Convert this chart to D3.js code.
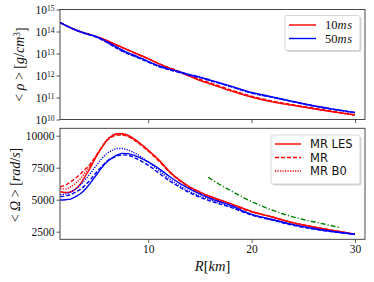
<!DOCTYPE html>
<html>
<head>
<meta charset="utf-8">
<script src="https://cdn.jsdelivr.net/npm/d3@7"></script>
<style>
  body { margin: 0; background: #fff; }
  svg { display: block; }
  text { font-family: "Liberation Serif", "DejaVu Serif", serif; }
</style>
</head>
<body>
<div id="chart"></div>
<script>
// top panel: mean density vs radius
const rhoR = [1.5, 2, 3, 4, 5, 6, 7, 8, 9, 10, 11, 12, 13, 14, 15, 16, 18, 20, 22, 24, 26, 28, 30];
const rho10 = [2.5e14, 1.9e14, 1.17e14, 8.1e13, 5.9e13, 3.9e13, 2.4e13, 1.5e13, 9.3e12, 5.9e12, 3.5e12, 2.2e12, 1.45e12, 9.3e11, 6.0e11, 4.2e11, 2.0e11, 1.05e11, 6.3e10, 4.4e10, 3.1e10, 2.2e10, 1.6e10];
const rho10b = [2.5e14, 1.9e14, 1.17e14, 8.0e13, 5.8e13, 3.8e13, 2.3e13, 1.45e13, 9.0e12, 5.8e12, 3.5e12, 2.3e12, 1.55e12, 1.0e12, 6.6e11, 4.6e11, 2.2e11, 1.15e11, 6.9e10, 4.7e10, 3.3e10, 2.3e10, 1.65e10];
const rho50 = [2.5e14, 1.9e14, 1.17e14, 8.1e13, 5.8e13, 3.5e13, 1.9e13, 1.1e13, 7.1e12, 4.4e12, 2.8e12, 2.0e12, 1.5e12, 1.1e12, 8.5e11, 6.2e11, 3.3e11, 1.7e11, 1.07e11, 6.6e10, 4.2e10, 2.9e10, 2.1e10];
const rho50b = [2.5e14, 1.9e14, 1.15e14, 7.8e13, 5.5e13, 3.2e13, 1.7e13, 1.0e13, 6.5e12, 4.1e12, 2.6e12, 1.85e12, 1.4e12, 1.03e12, 8.0e11, 5.9e11, 3.1e11, 1.6e11, 1.02e11, 6.4e10, 4.1e10, 2.85e10, 2.05e10];
const rhoTicks = [1e10, 1e11, 1e12, 1e13, 1e14, 1e15];

// bottom panel: mean angular velocity vs radius
const omR = [1.5, 2, 2.5, 3, 3.5, 4, 4.5, 5, 5.5, 6, 6.5, 7, 7.5, 8, 9, 10, 11, 12, 13, 14, 15, 16, 18, 20, 22, 24, 26, 28, 30];
const omLes10 = [5620, 5560, 5600, 5850, 6300, 6950, 7650, 8400, 9050, 9650, 10000, 10150, 10150, 10050, 9550, 8880, 8150, 7250, 6550, 6000, 5600, 5250, 4700, 4080, 3650, 3200, 2870, 2580, 2300];
const omMr10 = [6000, 6150, 6400, 6700, 7050, 7450, 7900, 8500, 9100, 9600, 9900, 10050, 10050, 9950, 9450, 8800, 8050, 7200, 6500, 5950, 5500, 5150, 4600, 4050, 3650, 3200, 2870, 2580, 2300];
const omB010 = [5850, 5850, 6000, 6300, 6700, 7200, 7800, 8450, 9100, 9650, 9950, 10100, 10100, 10000, 9500, 8850, 8100, 7250, 6550, 6000, 5600, 5250, 4650, 4080, 3650, 3200, 2870, 2580, 2300];
const omLes50 = [4980, 5000, 5050, 5250, 5500, 5900, 6400, 6950, 7500, 7950, 8250, 8500, 8620, 8600, 8350, 7950, 7450, 6850, 6300, 5850, 5450, 5100, 4550, 3850, 3450, 3050, 2750, 2500, 2300];
const omMr50 = [5230, 5300, 5400, 5600, 5850, 6200, 6650, 7150, 7600, 8000, 8250, 8420, 8500, 8480, 8150, 7700, 7100, 6500, 6000, 5550, 5200, 4900, 4400, 3800, 3400, 3000, 2700, 2480, 2300];
const omB050 = [5400, 5450, 5600, 5850, 6200, 6650, 7150, 7700, 8200, 8600, 8850, 9000, 9000, 8900, 8500, 7950, 7300, 6650, 6100, 5650, 5300, 5000, 4450, 3850, 3450, 3050, 2750, 2500, 2300];
const kepR = [15.8, 17, 18, 19.5, 21, 23, 25, 27, 28.5];
const kepOm = [6750, 6150, 5700, 5050, 4500, 3900, 3450, 3100, 2830];
const omTicks = [2500, 5000, 7500, 10000];
const rTicks = [10, 20, 30];

const W = 374, H = 282;
const left = 60, right = 365;
const top1 = 9.5, bot1 = 119.5;
const top2 = 128.3, bot2 = 239.3;

const svg = d3.select("#chart").append("svg")
  .attr("width", W).attr("height", H);

const x = d3.scaleLinear().domain([1.47, 30.97]).range([left, right]);
const y1 = d3.scaleLog().domain([1e10, 1e15]).range([bot1, top1]);
const y2 = d3.scaleLinear().domain([1906, 10580]).range([bot2, top2]);

const dashes = { solid: null, dashed: "4,2", dotted: "1.2,1.3", dashdot: "5,2,1.2,2" };

function drawLine(g, xs, ys, yScale, color, style) {
  const line = d3.line().x((d, i) => x(xs[i])).y(d => yScale(d)).curve(d3.curveMonotoneX);
  g.append("path").datum(ys)
    .attr("d", line)
    .attr("fill", "none")
    .attr("stroke", color)
    .attr("stroke-width", 1.4)
    .attr("stroke-dasharray", dashes[style]);
}

// clip paths
["c1", "c2"].forEach((id, k) => {
  svg.append("clipPath").attr("id", id).append("rect")
    .attr("x", left).attr("y", k ? top2 : top1)
    .attr("width", right - left).attr("height", k ? bot2 - top2 : bot1 - top1);
});

// ---- top panel
const g1 = svg.append("g").attr("clip-path", "url(#c1)");
drawLine(g1, rhoR, rho10, y1, "red", "solid");
drawLine(g1, rhoR, rho10b, y1, "red", "dashed");
drawLine(g1, rhoR, rho10, y1, "red", "dotted");
drawLine(g1, rhoR, rho50, y1, "blue", "solid");
drawLine(g1, rhoR, rho50b, y1, "blue", "dashed");
drawLine(g1, rhoR, rho50b, y1, "blue", "dotted");

// ---- bottom panel
const g2 = svg.append("g").attr("clip-path", "url(#c2)");
drawLine(g2, omR, omLes10, y2, "red", "solid");
drawLine(g2, omR, omMr10, y2, "red", "dashed");
drawLine(g2, omR, omB010, y2, "red", "dotted");
drawLine(g2, omR, omLes50, y2, "blue", "solid");
drawLine(g2, omR, omMr50, y2, "blue", "dashed");
drawLine(g2, omR, omB050, y2, "blue", "dotted");
drawLine(g2, kepR, kepOm, y2, "green", "dashdot");

// ---- axes
const tickFont = "11.5px";
function styleAxis(g) {
  g.select(".domain").remove();
  g.selectAll(".tick line").attr("stroke", "#333").attr("stroke-width", 0.8);
  g.selectAll(".tick text").attr("fill", "#111").style("font-size", tickFont)
    .style("font-family", "'Liberation Serif', serif");
}

const ax1 = svg.append("g").attr("transform", `translate(${left},0)`)
  .call(d3.axisLeft(y1).tickValues(rhoTicks).tickSize(3.5).tickPadding(2).tickFormat(""));
styleAxis(ax1);
ax1.selectAll(".tick").each(function(d) {
  const t = d3.select(this).append("text")
    .attr("x", -5.5).attr("y", 0).attr("dy", "0.36em")
    .attr("text-anchor", "end").attr("fill", "#111")
    .style("font-size", tickFont);
  t.append("tspan").text("10");
  t.append("tspan").attr("dy", "-0.45em").style("font-size", "7.5px").text(Math.round(Math.log10(d)));
});

svg.append("g").attr("transform", `translate(0,${bot1})`)
  .call(d3.axisBottom(x).tickValues(rTicks).tickSize(3.5).tickFormat(""))
  .call(styleAxis);

svg.append("g").attr("transform", `translate(${left},0)`)
  .call(d3.axisLeft(y2).tickValues(omTicks).tickSize(3.5).tickPadding(2).tickFormat(d3.format("d")))
  .call(styleAxis);

svg.append("g").attr("transform", `translate(0,${bot2})`)
  .call(d3.axisBottom(x).tickValues(rTicks).tickSize(3.5).tickPadding(2).tickFormat(d3.format("d")))
  .call(styleAxis);

// frames
[[top1, bot1], [top2, bot2]].forEach(([t, b]) => {
  svg.append("rect").attr("x", left).attr("y", t)
    .attr("width", right - left).attr("height", b - t)
    .attr("fill", "none").attr("stroke", "#333").attr("stroke-width", 0.9);
});

// axis labels
function ylab(cx, cy, parts) {
  const t = svg.append("text").attr("transform", `translate(${cx},${cy}) rotate(-90)`)
    .attr("text-anchor", "middle").style("font-size", "14px").attr("fill", "#111");
  parts.forEach(p => {
    const s = t.append("tspan").text(p.t);
    if (p.i) s.style("font-style", "italic");
    if (p.sup) s.attr("dy", "-0.45em").style("font-size", "9.5px");
    if (p.down) s.attr("dy", "0.45em");
  });
}
ylab(24, 64.5, [{ t: "< " }, { t: "ρ", i: 1 }, { t: " > [" }, { t: "g", i: 1 }, { t: "/" }, { t: "cm", i: 1 }, { t: "3", sup: 1 }, { t: "]", down: 1 }]);
ylab(20, 185, [{ t: "< " }, { t: "Ω", i: 1 }, { t: " > [" }, { t: "rad", i: 1 }, { t: "/" }, { t: "s", i: 1 }, { t: "]" }]);

const xl = svg.append("text").attr("x", (left + right) / 2).attr("y", 271)
  .attr("text-anchor", "middle").style("font-size", "14.5px").attr("fill", "#111");
xl.append("tspan").style("font-style", "italic").text("R");
xl.append("tspan").text("[");
xl.append("tspan").style("font-style", "italic").text("km");
xl.append("tspan").text("]");

// legends
function legendBox(x0, y0, w, h) {
  svg.append("rect").attr("x", x0 + 1.5).attr("y", y0 + 1.5).attr("width", w).attr("height", h)
    .attr("rx", 2).attr("fill", "#bbb").attr("opacity", 0.6);
  svg.append("rect").attr("x", x0).attr("y", y0).attr("width", w).attr("height", h)
    .attr("rx", 2).attr("fill", "#fff").attr("stroke", "#ccc").attr("stroke-width", 0.8);
}

legendBox(285, 15.5, 75, 35);
[["10", "red", 25], ["50", "blue", 38.5]].forEach(([n, c, yy]) => {
  svg.append("line").attr("x1", 289).attr("x2", 316).attr("y1", yy).attr("y2", yy)
    .attr("stroke", c).attr("stroke-width", 1.4);
  const t = svg.append("text").attr("x", 325).attr("y", yy).attr("dy", "0.35em")
    .style("font-size", "12.5px").attr("fill", "#111");
  t.append("tspan").text(n);
  t.append("tspan").style("font-style", "italic").style("letter-spacing", "0.6px").text("ms");
});

legendBox(271, 135, 89, 49);
[["MR LES", "solid", 144], ["MR", "dashed", 157.5], ["MR B0", "dotted", 171]].forEach(([lab, st, yy]) => {
  svg.append("line").attr("x1", 275).attr("x2", 301).attr("y1", yy).attr("y2", yy)
    .attr("stroke", "red").attr("stroke-width", 1.4).attr("stroke-dasharray", dashes[st]);
  svg.append("text").attr("x", 310).attr("y", yy).attr("dy", "0.36em")
    .style("font-size", "11.5px").style("font-family", "'DejaVu Sans', sans-serif")
    .attr("fill", "#111").text(lab);
});
</script>
</body>
</html>
